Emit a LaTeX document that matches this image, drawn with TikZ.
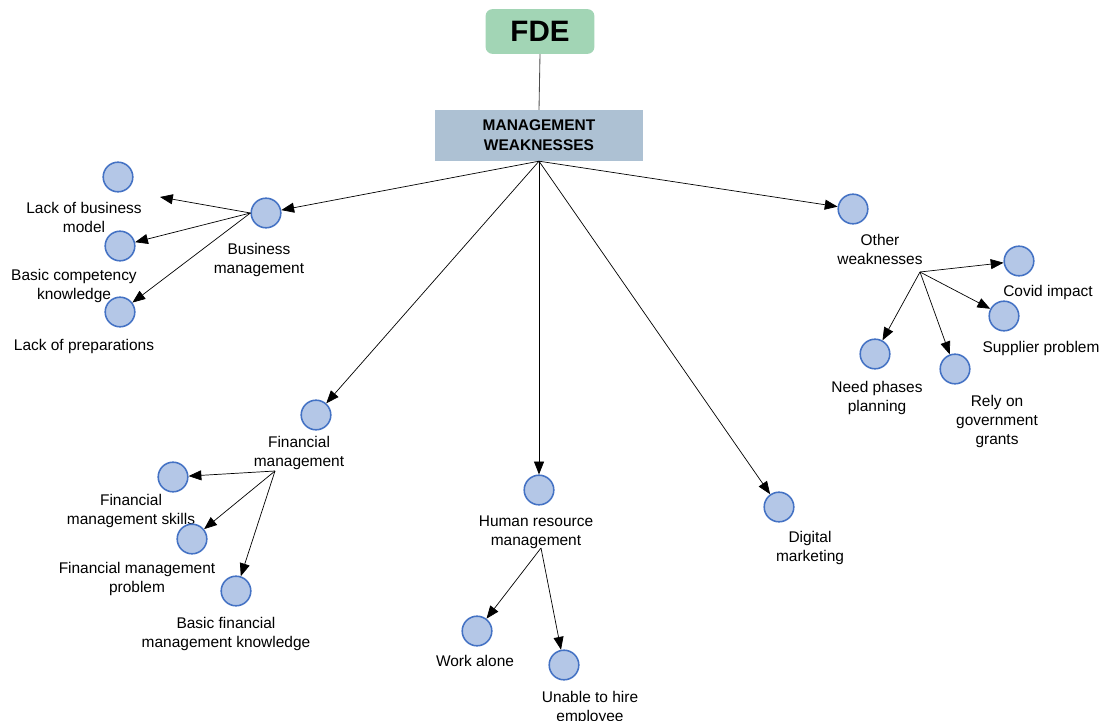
\documentclass[tikz,border=0pt]{standalone}
\usepackage{fontspec}
\setmainfont{Liberation Sans}
\usetikzlibrary{arrows.meta}

\definecolor{fdegreen}{RGB}{162,213,181}
\definecolor{mgmtblue}{RGB}{173,193,211}
\definecolor{bubblefill}{RGB}{180,199,231}
\definecolor{bubbleline}{RGB}{68,114,196}

\tikzset{
  bubble/.style={circle, draw=bubbleline, fill=bubblefill, line width=1.1pt,
    minimum size=0.74cm, inner sep=0pt},
  lbl/.style={align=center, font=\fontsize{11}{13.5}\selectfont, inner sep=0pt,
    yshift=-0.065cm},
  link/.style={-{Triangle[length=0.32cm,width=0.25cm]}, line width=0.5pt},
}

\begin{document}
\begin{tikzpicture}[x=0.025cm, y=-0.025cm]
      \useasboundingbox (0,0) rectangle (1104,721);

      % top of the tree
      \node[fill=fdegreen, rounded corners=5pt, minimum width=2.72cm, minimum height=1.12cm,
        font=\fontsize{21}{25}\selectfont\bfseries] (fde) at (540,31.5) {FDE};
      \node[fill=mgmtblue, minimum width=5.2cm, minimum height=1.27cm, align=center,
        font=\fontsize{11}{14}\selectfont\bfseries] (mgmt) at (539,135.5) {MANAGEMENT\\WEAKNESSES};
      \draw[gray!60!black, line width=0.6pt] (fde.south) -- (mgmt.north);

      % the five groups
      \node[bubble] (bm) at (266,213) {};
      \node[lbl] (bmtxt) at (259,257) {Business\\management};
      \node[bubble] (fm) at (316,415) {};
      \node[lbl] (fmtxt) at (299,450) {Financial\\management};
      \node[bubble] (hr) at (539,490) {};
      \node[lbl] (hrtxt) at (536,530) {Human resource\\management};
      \node[bubble] (dm) at (779,507) {};
      \node[lbl] (dmtxt) at (810,545) {Digital\\marketing};
      \node[bubble] (ow) at (853,209) {};
      \node[lbl] (owtxt) at (880,247) {Other\\weaknesses};

      \foreach \g in {bm,fm,hr,dm,ow} {
        \draw[link] (mgmt.south) -- (\g);
      }

      % business management
      \node[bubble] (lbm) at (118,177) {};
      \node[lbl] (lbmtxt) at (84,215) {Lack of business\\model};
      \node[bubble] (bck) at (120,246) {};
      \node[lbl] (bcktxt) at (74,283) {Basic competency\\knowledge};
      \node[bubble] (lp) at (120,312) {};
      \node[lbl] (lptxt) at (84,344) {Lack of preparations};
      \coordinate (lbmend) at (160,197);
      \draw[link] (bm.west) -- (lbmend);
      \draw[link] (bm.west) -- (bck);
      \draw[link] (bm.west) -- (lp);

      % financial management
      \coordinate (fmroot) at (275,471);
      \node[bubble] (fms) at (173,477) {};
      \node[lbl] (fmstxt) at (131,508) {Financial\\management skills};
      \node[bubble] (fmp) at (192,539) {};
      \node[lbl] (fmptxt) at (137,576) {Financial management\\problem};
      \node[bubble] (bfk) at (236,591) {};
      \node[lbl] (bfktxt) at (226,631) {Basic financial\\management knowledge};
      \foreach \s in {fms,fmp,bfk} {
        \draw[link] (fmroot) -- (\s);
      }

      % human resource management
      \coordinate (hrroot) at (541,548);
      \node[bubble] (wa) at (477,631) {};
      \node[lbl] (watxt) at (475,658) {Work alone};
      \node[bubble] (uh) at (564,665) {};
      \node[lbl] (uhtxt) at (590,705) {Unable to hire\\employee};
      \draw[link] (hrroot) -- (wa);
      \draw[link] (hrroot) -- (uh);

      % other weaknesses
      \coordinate (owroot) at (920,272);
      \node[bubble] (ci) at (1019,261) {};
      \node[lbl] (citxt) at (1048,290) {Covid impact};
      \node[bubble] (sp) at (1004,316) {};
      \node[lbl] (sptxt) at (1041,346) {Supplier problem};
      \node[bubble] (np) at (875,354) {};
      \node[lbl] (nptxt) at (877,395) {Need phases\\planning};
      \node[bubble] (rg) at (955,369) {};
      \node[lbl] (rgtxt) at (997,419) {Rely on\\government\\grants};
      \foreach \s in {ci,sp,np,rg} {
        \draw[link] (owroot) -- (\s);
      }
    \end{tikzpicture}
\end{document}
